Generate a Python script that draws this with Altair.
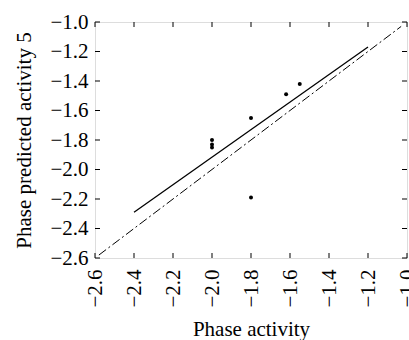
import altair as alt
import pandas as pd

# Observed vs. predicted phase activity
obs_x = [-2.0, -2.0, -2.0, -1.8, -1.8, -1.62, -1.55]
pred_y = [-1.80, -1.83, -1.85, -1.65, -2.19, -1.49, -1.42]

# Fitted regression line end points
fit_x = [-2.4, -1.2]
fit_y = [-2.29, -1.17]

# Identity (y = x) reference line
ident_x = [-2.58, -1.03]
ident_y = [-2.58, -1.03]

ticks = [-2.6, -2.4, -2.2, -2.0, -1.8, -1.6, -1.4, -1.2, -1.0]
domain = [-2.6, -1.0]

W, H = 312, 236
FONT = "Liberation Serif"
TICK = 5

pts = pd.DataFrame({"x": obs_x, "y": pred_y})
fit = pd.DataFrame({"x": fit_x, "y": fit_y})
ident = pd.DataFrame({"x": ident_x, "y": ident_y})
tick_df = pd.DataFrame({"t": ticks})

xs = alt.Scale(domain=domain, nice=False, zero=False)
ys = alt.Scale(domain=domain, nice=False, zero=False)

# Dash-dot identity line
ident_layer = alt.Chart(ident).mark_line(
    color="black", strokeWidth=1, strokeDash=[9, 3, 2, 3]
).encode(
    x=alt.X("x:Q", scale=xs, axis=None),
    y=alt.Y("y:Q", scale=ys, axis=None),
)

# Solid fitted line
fit_layer = alt.Chart(fit).mark_line(color="black", strokeWidth=1.3).encode(
    x=alt.X("x:Q", scale=xs, axis=None),
    y=alt.Y("y:Q", scale=ys, axis=None),
)


# Inward-pointing ticks on the four edges of the frame
def edge_ticks(side):
    base = alt.Chart(tick_df)
    if side in ("bottom", "top"):
        edge = domain[0] if side == "bottom" else domain[1]
        shift = -TICK / 2 if side == "bottom" else TICK / 2
        return base.mark_tick(
            orient="vertical", size=TICK, thickness=1, color="black",
            opacity=1, yOffset=shift
        ).encode(
            x=alt.X("t:Q", scale=xs, axis=None),
            y=alt.YDatum(edge, scale=ys, axis=None),
        )
    edge = domain[0] if side == "left" else domain[1]
    shift = TICK / 2 if side == "left" else -TICK / 2
    return base.mark_tick(
        orient="horizontal", size=TICK, thickness=1, color="black",
        opacity=1, xOffset=shift
    ).encode(
        x=alt.XDatum(edge, scale=xs, axis=None),
        y=alt.Y("t:Q", scale=ys, axis=None),
    )


tick_layers = [edge_ticks(s) for s in ("bottom", "top", "left", "right")]

# Data points with the labelled axes
pt_layer = alt.Chart(pts).mark_circle(color="black", opacity=1, size=16).encode(
    x=alt.X("x:Q", scale=xs, axis=alt.Axis(
        orient="bottom", values=ticks, format=".1f", ticks=False, domain=False,
        grid=False, labelAngle=-90, labelPadding=11, labelFont=FONT,
        labelFontSize=21, labelColor="black", title="Phase activity",
        titleFont=FONT, titleFontSize=21, titleFontWeight="normal",
        titleColor="black", titlePadding=11)),
    y=alt.Y("y:Q", scale=ys, axis=alt.Axis(
        orient="left", values=ticks, format=".1f", ticks=False, domain=False,
        grid=False, labelPadding=7, labelFont=FONT, labelFontSize=21,
        labelColor="black", title="Phase predicted activity 5",
        titleFont=FONT, titleFontSize=21, titleFontWeight="normal",
        titleColor="black", titlePadding=15)),
)

chart = alt.layer(pt_layer, ident_layer, fit_layer, *tick_layers).resolve_axis(
    x="independent", y="independent"
).properties(
    width=W, height=H,
    autosize=alt.AutoSizeParams(type="none"),
    padding={"left": 95, "top": 22, "right": 2, "bottom": 82},
).configure_view(
    stroke="black", strokeWidth=1
).configure(background="white")

chart.save("out.html", embed_options={"renderer": "svg", "actions": False})
